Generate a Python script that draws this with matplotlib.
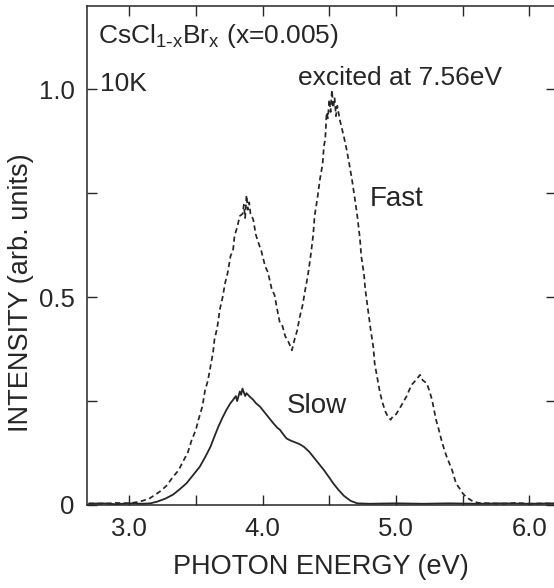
import matplotlib
matplotlib.use("Agg")
import matplotlib.pyplot as plt

plt.rcParams['font.family'] = ['Liberation Sans', 'DejaVu Sans']

# ---- data ----
fast_energy = [2.70, 2.80, 2.90, 3.00, 3.08, 3.15, 3.23, 3.28, 3.33, 3.37, 3.41, 3.44,
               3.47, 3.50, 3.52, 3.55, 3.57, 3.59, 3.61, 3.63, 3.64, 3.66, 3.68, 3.70,
               3.72, 3.74, 3.76, 3.78, 3.79, 3.81, 3.83, 3.85, 3.86, 3.87, 3.88, 3.89,
               3.90, 3.91, 3.93, 3.95, 3.97, 3.99, 4.02, 4.04, 4.07, 4.09, 4.11, 4.13,
               4.15, 4.17, 4.19, 4.21, 4.22, 4.24, 4.26, 4.28, 4.30, 4.32, 4.34, 4.36,
               4.38, 4.39, 4.41, 4.43, 4.45, 4.46, 4.47, 4.48, 4.49, 4.50, 4.51, 4.52,
               4.53, 4.54, 4.55, 4.56, 4.58, 4.59, 4.61, 4.63, 4.65, 4.67, 4.69, 4.71,
               4.73, 4.74, 4.76, 4.77, 4.79, 4.81, 4.83, 4.84, 4.86, 4.88, 4.90, 4.92,
               4.94, 4.96, 4.98, 5.00, 5.02, 5.05, 5.08, 5.10, 5.12, 5.14, 5.16, 5.18,
               5.20, 5.23, 5.25, 5.27, 5.30, 5.32, 5.34, 5.36, 5.38, 5.40, 5.42, 5.45,
               5.48, 5.50, 5.53, 5.56, 5.58, 5.62, 5.70, 5.80, 5.90, 6.00, 6.10, 6.20]
fast_intensity = [0.004, 0.003, 0.005, 0.004, 0.008, 0.015, 0.032, 0.046, 0.068, 0.083, 0.108, 0.126,
                  0.157, 0.180, 0.205, 0.238, 0.277, 0.298, 0.333, 0.368, 0.398, 0.425, 0.470, 0.498,
                  0.534, 0.560, 0.598, 0.615, 0.646, 0.668, 0.695, 0.700, 0.722, 0.690, 0.745, 0.710,
                  0.728, 0.700, 0.687, 0.650, 0.630, 0.612, 0.574, 0.560, 0.518, 0.505, 0.470, 0.438,
                  0.430, 0.406, 0.395, 0.381, 0.372, 0.398, 0.420, 0.454, 0.480, 0.518, 0.552, 0.598,
                  0.650, 0.695, 0.735, 0.783, 0.820, 0.863, 0.880, 0.944, 0.930, 0.975, 0.945, 0.998,
                  0.955, 0.980, 0.935, 0.960, 0.925, 0.912, 0.885, 0.855, 0.820, 0.783, 0.740, 0.695,
                  0.640, 0.598, 0.555, 0.518, 0.470, 0.422, 0.380, 0.341, 0.305, 0.270, 0.245, 0.225,
                  0.212, 0.205, 0.215, 0.218, 0.228, 0.245, 0.262, 0.277, 0.290, 0.297, 0.305, 0.313,
                  0.300, 0.293, 0.275, 0.253, 0.205, 0.182, 0.157, 0.135, 0.116, 0.100, 0.084, 0.052,
                  0.038, 0.028, 0.018, 0.012, 0.008, 0.005, 0.004, 0.003, 0.005, 0.003, 0.004, 0.003]

slow_energy = [2.70, 2.80, 2.90, 3.00, 3.10, 3.16, 3.21, 3.27, 3.33, 3.38, 3.43, 3.48,
               3.53, 3.57, 3.61, 3.64, 3.67, 3.70, 3.73, 3.76, 3.78, 3.80, 3.81, 3.83,
               3.84, 3.85, 3.87, 3.88, 3.90, 3.93, 3.95, 3.98, 4.01, 4.03, 4.06, 4.08,
               4.11, 4.13, 4.16, 4.18, 4.21, 4.25, 4.28, 4.31, 4.35, 4.38, 4.42, 4.46,
               4.50, 4.53, 4.57, 4.61, 4.66, 4.71, 4.80, 5.00, 5.20, 5.40, 5.60, 5.80,
               6.00, 6.20]
slow_intensity = [0.003, 0.004, 0.002, 0.004, 0.003, 0.004, 0.008, 0.015, 0.025, 0.038, 0.052, 0.072,
                  0.092, 0.115, 0.140, 0.165, 0.189, 0.210, 0.229, 0.245, 0.253, 0.262, 0.250, 0.273,
                  0.265, 0.280, 0.262, 0.269, 0.262, 0.253, 0.245, 0.237, 0.225, 0.217, 0.205, 0.197,
                  0.186, 0.181, 0.168, 0.160, 0.155, 0.150, 0.146, 0.140, 0.128, 0.116, 0.100, 0.084,
                  0.066, 0.052, 0.036, 0.022, 0.010, 0.004, 0.003, 0.004, 0.003, 0.004, 0.003, 0.004,
                  0.003, 0.004]

x_ticks = [3.0, 3.5, 4.0, 4.5, 5.0, 5.5, 6.0]
x_labels = ["3.0", "", "4.0", "", "5.0", "", "6.0"]
y_ticks = [0.0, 0.25, 0.5, 0.75, 1.0]
y_labels = ["0", "", "0.5", "", "1.0"]

fig = plt.figure(figsize=(5.54, 5.88), dpi=100)
ax = fig.add_axes([87/554, 83/588, (555.5-87)/554, (582-83)/588])

ink = "#262626"
ax.plot(fast_energy, fast_intensity, color=ink, lw=1.25, linestyle=(0, (3.0, 2.0)))
ax.plot(slow_energy, slow_intensity, color=ink, lw=1.3, linestyle="-")

ax.set_xlim(2.685, 6.195)
ax.set_ylim(0.0, 1.2)

ax.set_xticks(x_ticks)
ax.set_xticklabels(x_labels)
ax.set_yticks(y_ticks)
ax.set_yticklabels(y_labels)
ax.tick_params(direction="in", length=7, width=1.0, top=True, right=True,
               labelsize=18.5, colors=ink, pad=9)
for s in ax.spines.values():
    s.set_color(ink)
    s.set_linewidth(1.1)

ax.set_xlabel("PHOTON ENERGY (eV)", fontsize=19.5, color=ink, labelpad=9)
ax.set_ylabel("INTENSITY (arb. units)", fontsize=19.5, color=ink)
ax.yaxis.set_label_coords(-0.113, 0.425)

ax.text(2.768, 1.112, r"CsCl$_{\mathregular{1\text{-}x}}$Br$_{\mathregular{x}}$ (x=0.005)",
        fontsize=19, color=ink, va="baseline", ha="left")
ax.text(2.78, 0.995, "10K", fontsize=19, color=ink, va="baseline", ha="left")
ax.text(4.266, 1.01, "excited at 7.56eV", fontsize=19, color=ink, va="baseline", ha="left")
ax.text(4.805, 0.718, "Fast", fontsize=20, color=ink, va="baseline", ha="left")
ax.text(4.18, 0.222, "Slow", fontsize=20, color=ink, va="baseline", ha="left")

fig.savefig("out.png", dpi=100)
